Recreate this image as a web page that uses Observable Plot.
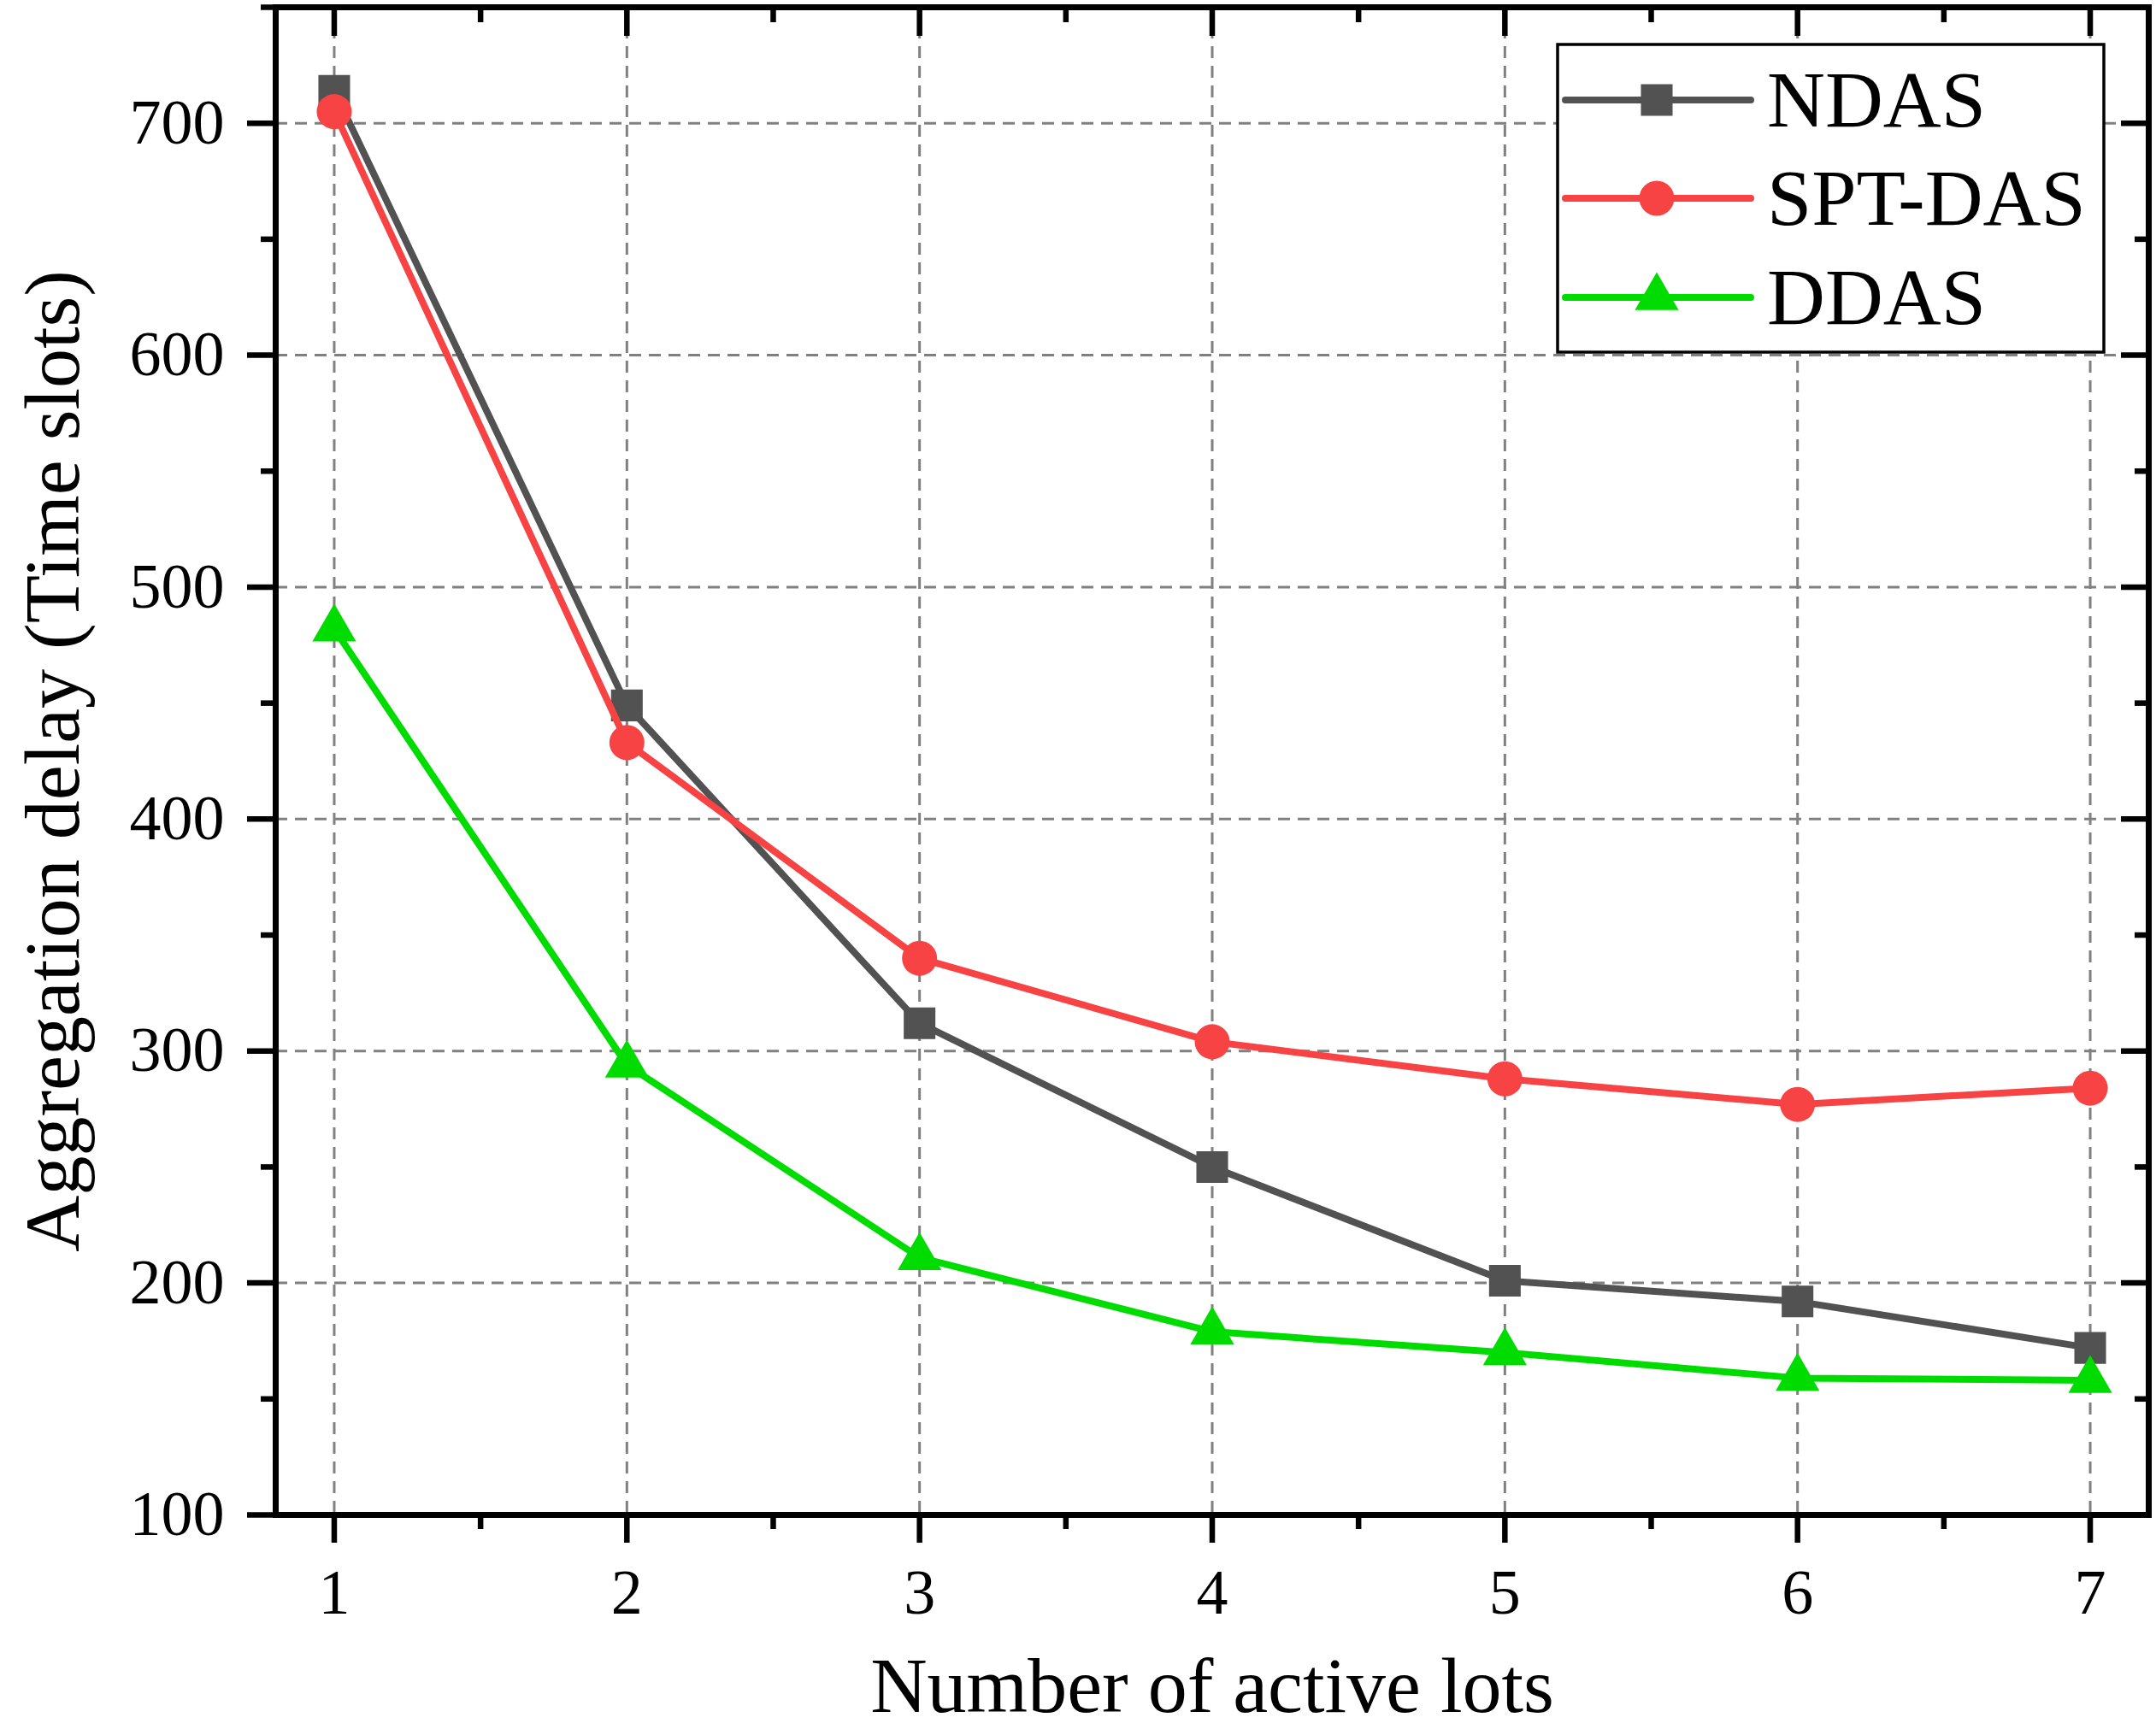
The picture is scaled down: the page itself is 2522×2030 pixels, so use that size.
<!DOCTYPE html>
<html>
<head>
<meta charset="utf-8">
<script src="https://cdn.jsdelivr.net/npm/d3@7"></script>
<script src="https://cdn.jsdelivr.net/npm/@observablehq/plot@0.6"></script>
<style>
  html, body { margin: 0; padding: 0; background: #fff; }
  #wrap { position: relative; width: 2522px; height: 2030px; }
  #wrap svg { display: block; }
</style>
</head>
<body>
<div id="wrap"></div>
<script>
// ---- data ----
const lots = [1, 2, 3, 4, 5, 6, 7];
const ndas = [714, 449, 312, 250, 201, 192, 172];
const sptDas = [705, 433, 340, 304, 288, 277, 284];
const ddas = [482, 294, 211, 179, 170, 159, 158];
const seriesNames = ["NDAS", "SPT-DAS", "DDAS"];
const seriesColors = ["#525252", "#F74343", "#00DC00"];
const seriesSymbols = ["square", "circle", "triangle"];
const xMajorTicks = [1, 2, 3, 4, 5, 6, 7];
const xMinorTicks = [1.5, 2.5, 3.5, 4.5, 5.5, 6.5];
const yMajorTicks = [100, 200, 300, 400, 500, 600, 700];
const yMinorTicks = [150, 250, 350, 450, 550, 650, 750];
const xTitle = "Number of active lots";
const yTitle = "Aggregation delay (Time slots)";

const seriesValues = [ndas, sptDas, ddas];
const rows = seriesNames.flatMap((name, i) =>
  lots.map((lot, j) => ({series: name, lot, value: seriesValues[i][j]})));

const dotR = {"NDAS": 20.9, "SPT-DAS": 20.5, "DDAS": 19};
const font = "'Liberation Serif', 'Times New Roman', serif";

const seriesMarks = seriesNames.flatMap(name => {
  const d = rows.filter(r => r.series === name);
  return [
    Plot.line(d, {x: "lot", y: "value", stroke: "series", strokeWidth: 8, strokeLinejoin: "round"}),
    Plot.dot(d, {x: "lot", y: "value", fill: "series", symbol: "series", r: dotR[name], stroke: "none"})
  ];
});

const tickStyle = {stroke: "black", strokeWidth: 6.5, label: null};
const gridStyle = {stroke: "#808080", strokeOpacity: 1, strokeWidth: 3, strokeDasharray: "14,9"};

const chart = Plot.plot({
  width: 2522,
  height: 2030,
  marginTop: 8,
  marginRight: 9,
  marginBottom: 258,
  marginLeft: 322,
  style: {fontFamily: font, fontSize: "74px", color: "black", background: "white"},
  x: {domain: [0.8, 7.2], label: null},
  y: {domain: [100, 750], label: null},
  color: {domain: seriesNames, range: seriesColors},
  symbol: {domain: seriesNames, range: seriesSymbols},
  marks: [
    Plot.gridX(xMajorTicks, gridStyle),
    Plot.gridY(yMajorTicks.filter(v => v > 100), gridStyle),
    ...seriesMarks,
    Plot.frame({stroke: "black", strokeWidth: 7}),
    Plot.axisX(xMajorTicks, {...tickStyle, anchor: "bottom", tickSize: 33, tickPadding: 30, fontSize: 74, fill: "black", tickFormat: d => String(d)}),
    Plot.axisX(xMinorTicks, {...tickStyle, anchor: "bottom", tickSize: 17, fill: "none"}),
    Plot.axisX(xMajorTicks, {...tickStyle, anchor: "top", tickSize: 33, dy: 33, fill: "none"}),
    Plot.axisX(xMinorTicks, {...tickStyle, anchor: "top", tickSize: 17, dy: 17, fill: "none"}),
    Plot.axisY(yMajorTicks, {...tickStyle, anchor: "left", tickSize: 33, tickPadding: 27, fontSize: 74, fill: "black", tickFormat: d => String(d)}),
    Plot.axisY(yMinorTicks, {...tickStyle, anchor: "left", tickSize: 17, fill: "none"}),
    Plot.axisY(yMajorTicks, {...tickStyle, anchor: "right", tickSize: 33, dx: -33, fill: "none"}),
    Plot.axisY(yMinorTicks, {...tickStyle, anchor: "right", tickSize: 17, dx: -17, fill: "none"}),
    Plot.text([xTitle], {text: d => d, frameAnchor: "bottom", textAnchor: "middle", dy: 230, lineAnchor: "bottom", fontSize: 92, fill: "black"}),
    Plot.text([yTitle], {text: d => d, frameAnchor: "left", textAnchor: "middle", rotate: -90, dx: -231, lineAnchor: "bottom", fontSize: 92, fill: "black"})
  ]
});

const wrap = document.getElementById("wrap");
wrap.appendChild(chart);

// ---- legend overlay ----
const lg = {left: 1822, top: 52, width: 639, height: 360, lineX1: 1831, lineX2: 2048, markX: 1938, textX: 2067, rowY: [117, 232, 348], baseOff: 31, fontSize: 94};
const legend = d3.create("svg")
  .attr("width", 2522).attr("height", 2030)
  .style("position", "absolute").style("left", "0px").style("top", "0px")
  .style("pointer-events", "none");
legend.append("rect")
  .attr("x", lg.left).attr("y", lg.top).attr("width", lg.width).attr("height", lg.height)
  .attr("fill", "white").attr("stroke", "black").attr("stroke-width", 3.5);
const symType = {square: d3.symbolSquare, circle: d3.symbolCircle, triangle: d3.symbolTriangle};
seriesNames.forEach((name, i) => {
  const y = lg.rowY[i];
  legend.append("line")
    .attr("x1", lg.lineX1).attr("x2", lg.lineX2).attr("y1", y).attr("y2", y)
    .attr("stroke", seriesColors[i]).attr("stroke-width", 8).attr("stroke-linecap", "round");
  const r = dotR[name];
  legend.append("path")
    .attr("d", d3.symbol(symType[seriesSymbols[i]], Math.PI * r * r)())
    .attr("transform", `translate(${lg.markX},${y})`)
    .attr("fill", seriesColors[i]);
  legend.append("text")
    .attr("x", lg.textX).attr("y", y + lg.baseOff)
    .attr("font-family", font).attr("font-size", lg.fontSize).attr("fill", "black")
    .text(name);
});
wrap.appendChild(legend.node());
</script>
</body>
</html>
